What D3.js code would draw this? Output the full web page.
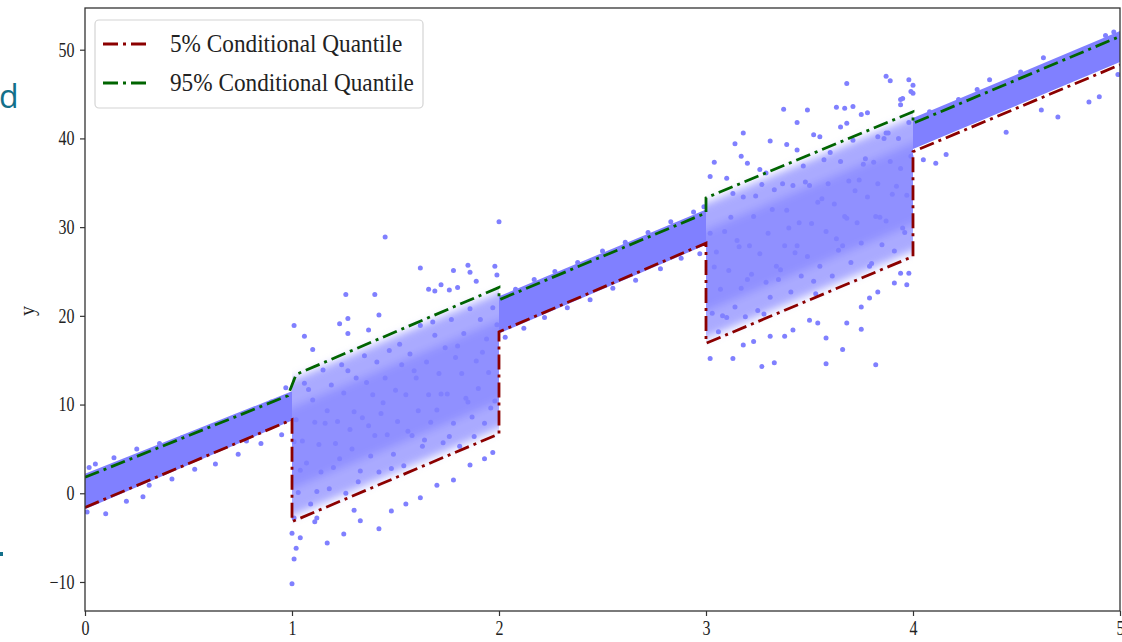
<!DOCTYPE html>
<html>
<head>
<meta charset="utf-8">
<script src="https://cdn.jsdelivr.net/npm/d3@7"></script>
<style>
body{margin:0;background:#fff}
svg{display:block}
</style>
</head>
<body>
<svg id="chart" width="1122" height="642"></svg>
<script>
// tick labels
const xTicks = [0, 1, 2, 3, 4, 5];
const yTicks = [-10, 0, 10, 20, 30, 40, 50];

// conditional quantile lines (x, y)
const q5X  = [0, 1, 1, 2, 2, 3, 3, 4, 4, 5];
const q5Y  = [-1.6, 8.3, -3.2, 6.7, 18.2, 28.2, 16.9, 26.7, 38.5, 48.3];
const q95X = [0, 0.98, 1.0, 1.02, 2, 2, 3, 3, 4, 4, 5];
const q95Y = [1.8, 11.0, 12.2, 13.4, 23.2, 21.8, 31.6, 33.3, 43.0, 41.7, 51.5];

// dense low-noise bands (segment start / end)
const bandX0 = [0, 2, 4],        bandX1 = [1, 3, 5];
const bandLo0 = [-1.8, 18.0, 38.8], bandLo1 = [8.2, 28.0, 48.6];
const bandHi0 = [2.2, 22.2, 42.3],  bandHi1 = [11.5, 32.0, 52.1];

// noisy clouds: outer core and inner (densest) core
const cloudX0 = [1, 3],         cloudX1 = [2, 4];
const cloudLo0 = [-2.6, 17.5],  cloudLo1 = [7.3, 27.3];
const cloudHi0 = [12.8, 32.7],  cloudHi1 = [22.6, 42.4];
const innerLo0 = [0.5, 20.5],   innerLo1 = [10.3, 30.3];
const innerHi0 = [9.7, 29.7],   innerHi1 = [19.5, 39.5];

// scattered samples
const cloudA = [[1.02,8.3],[1.03,0.1],[1.05,5.9],[1.06,12.4],[1.07,3.4],[1.09,-1.2],[1.10,10.5],[1.11,8.0],[1.13,5.5],[1.14,2.4],
[1.15,13.9],[1.17,9.3],[1.18,0.5],[1.19,12.2],[1.21,5.6],[1.22,8.1],[1.23,3.9],[1.25,11.3],[1.26,0.0],[1.27,13.8],
[1.29,5.0],[1.30,9.2],[1.31,13.0],[1.33,2.5],[1.34,8.5],[1.35,15.5],[1.37,7.6],[1.38,4.2],[1.39,11.1],[1.41,14.8],
[1.42,2.4],[1.43,9.0],[1.45,13.0],[1.46,6.6],[1.47,16.1],[1.49,4.4],[1.50,11.6],[1.51,8.1],[1.53,14.5],[1.54,3.1],
[1.55,11.1],[1.57,15.7],[1.58,6.5],[1.59,13.8],[1.61,9.3],[1.62,18.9],[1.63,5.3],[1.65,14.8],[1.66,11.1],[1.67,8.0],
[1.69,17.8],[1.70,9.4],[1.71,13.5],[1.73,5.7],[1.74,16.4],[1.75,11.2],[1.77,19.6],[1.78,7.9],[1.79,15.3],[1.81,5.3],
[1.82,13.5],[1.83,18.0],[1.85,10.3],[1.86,20.8],[1.87,8.6],[1.89,14.9],[1.90,11.8],[1.91,19.6],[1.93,7.9],[1.94,17.4],
[1.95,13.6],[1.97,20.9],[1.98,10.4],[1.04,2.6],[1.08,11.7],[1.12,0.2],[1.16,7.9],[1.20,2.9],[1.24,14.5],[1.28,7.2],
[1.32,1.3],[1.36,12.5],[1.40,6.5],[1.44,10.2],[1.48,2.8],[1.52,16.8],[1.56,7.0],[1.60,13.0],[1.64,6.0],[1.68,19.3],
[1.72,11.2],[1.76,6.4],[1.80,16.6],[1.84,10.7],[1.88,6.4],[1.92,15.9],[1.96,9.6],[1.99,19.0],[1.01,5.8],[1.01,-2.8]];

const outA = [[1.45,28.9],[2.0,30.6],[1.62,25.4],[1.78,25.1],[1.85,25.7],[1.86,24.9],[1.98,25.6],[1.99,24.6],[1.89,23.9],[1.66,23.0],
[1.69,22.8],[1.72,23.5],[1.76,22.9],[1.80,23.2],[1.26,22.4],[1.40,22.4],[1.27,19.7],[1.23,19.1],[1.42,20.1],[1.01,18.9],
[1.06,17.7],[1.10,16.2],[1.27,18.0],[1.37,18.4],[1.0,-10.2],[1.01,-7.4],[1.02,-6.2],[1.04,-5.0],[1.11,-3.2],[1.17,-5.6],
[1.25,-4.6],[1.33,-3.1],[1.42,-4.0],[1.48,-2.0],[1.55,-1.2],[1.62,-0.5],[1.70,0.9],[1.78,1.5],[1.86,3.2],[1.93,3.9],
[1.97,4.6],[1.12,-2.8],[1.30,-1.9],[1.0,-4.5]];

const cloudB = [[3.02,29.3],[3.03,20.3],[3.05,27.2],[3.06,18.2],[3.07,23.0],[3.09,29.5],[3.10,19.8],[3.11,25.1],[3.13,33.8],[3.14,21.0],
[3.15,28.5],[3.17,23.1],[3.18,33.4],[3.19,19.9],[3.21,27.9],[3.22,24.7],[3.23,31.2],[3.25,20.6],[3.26,27.0],[3.27,34.8],
[3.29,23.8],[3.30,29.3],[3.31,22.1],[3.33,34.2],[3.34,25.6],[3.35,24.1],[3.37,34.9],[3.38,27.9],[3.39,31.9],[3.41,22.7],
[3.42,34.7],[3.43,27.1],[3.45,30.5],[3.46,24.5],[3.47,36.9],[3.49,26.7],[3.50,34.7],[3.51,30.4],[3.53,22.5],[3.54,32.8],
[3.55,25.6],[3.57,37.6],[3.58,29.5],[3.59,34.9],[3.61,24.5],[3.62,32.6],[3.63,28.7],[3.65,37.4],[3.66,27.9],[3.67,31.2],
[3.69,35.2],[3.70,26.0],[3.71,39.8],[3.73,30.5],[3.74,35.3],[3.75,28.2],[3.77,37.7],[3.78,33.4],[3.79,25.6],[3.81,37.3],
[3.82,31.2],[3.83,34.9],[3.85,28.0],[3.86,40.0],[3.87,30.7],[3.89,37.4],[3.90,33.7],[3.91,27.3],[3.93,40.0],[3.94,36.6],
[3.95,29.9],[3.97,33.6],[3.98,41.8],[3.04,25.5],[3.08,20.0],[3.12,31.1],[3.16,27.8],[3.20,24.1],[3.24,33.5],[3.28,20.2],
[3.32,32.0],[3.36,25.2],[3.40,29.9],[3.44,27.9],[3.48,35.1],[3.52,23.9],[3.56,33.2],[3.60,38.4],[3.64,27.4],[3.68,31.0],
[3.72,34.1],[3.76,37.1],[3.80,25.9],[3.84,31.1],[3.88,40.6],[3.92,34.6],[3.96,29.4],[3.99,38.0]];

const outB = [[3.375,43.3],[3.49,43.2],[3.44,41.8],[3.63,43.5],[3.67,43.4],[3.71,43.6],[3.75,42.7],[3.78,42.9],[3.95,44.5],[3.94,43.8],
[4.0,45.1],[3.18,40.6],[3.14,39.4],[3.04,37.3],[3.02,35.7],[3.17,38.0],[3.20,37.2],[3.31,39.7],[3.39,39.3],[3.44,38.7],
[3.52,40.4],[3.55,40.2],[3.10,35.5],[3.26,36.5],[3.29,36.1],[3.65,41.3],[3.68,41.7],[3.83,40.2],[3.87,40.6],[3.87,47.0],
[3.89,46.5],[3.68,46.2],[3.98,46.6],[4.0,46.0],[3.99,45.3],[3.94,44.4],[3.02,15.2],[3.13,15.2],[3.27,14.3],[3.33,14.7],
[3.58,14.6],[3.66,16.2],[3.82,14.5],[3.18,16.7],[3.23,17.1],[3.31,17.7],[3.38,17.7],[3.42,18.4],[3.58,17.5],[3.75,18.5],
[3.75,21.0],[3.79,22.0],[3.83,22.7],[3.91,23.7],[3.97,23.5],[3.94,24.8],[3.98,24.8],[3.68,19.2],[3.50,19.5],[3.54,19.2]];

const fringe = [[0.02,2.9],[0.05,3.3],[0.10,-2.3],[0.14,4.0],[0.20,-0.9],[0.25,5.0],[0.31,0.9],[0.36,5.6],[0.42,1.6],[0.47,6.3],
[0.53,2.7],[0.58,7.1],[0.63,3.3],[0.69,8.1],[0.74,4.4],[0.80,9.0],[0.85,5.6],[0.90,10.3],[0.95,6.6],[0.97,11.9],
[0.01,-2.1],[0.28,-0.4],[0.78,5.9],
[2.03,17.6],[2.08,23.0],[2.12,18.6],[2.17,24.1],[2.22,19.8],[2.27,25.0],[2.33,20.9],[2.38,26.0],[2.44,21.8],[2.50,27.3],
[2.55,23.1],[2.61,28.3],[2.66,24.0],[2.72,29.4],[2.78,25.3],[2.83,30.6],[2.88,26.5],[2.94,31.7],[2.97,27.0],[2.99,32.3],
[4.37,46.6],[4.63,49.1],[4.90,44.7],[4.99,47.2],[4.16,38.2],[4.11,37.2],[4.62,43.2],[4.31,45.5],[4.05,37.6],[4.22,44.4],
[4.45,40.7],[4.52,47.5],[4.70,42.4],[4.77,49.0],[4.85,44.1],[4.93,51.6],[4.97,52.0],[4.08,43.0]];

const legendLabels = ["5% Conditional Quantile", "95% Conditional Quantile"];
const legendColors = ["#8b0000", "#006400"];

const svg = d3.select("#chart");
const margin = {left: 85, top: 8, right: 2, bottom: 31};
const width = 1122, height = 642;
const serif = "'Liberation Serif','Times New Roman',serif";
const dotColor = "#8080ff";
const dash = "15,5,3,5";

const x = d3.scaleLinear().domain([0, 5]).range([margin.left, width - margin.right]);
const y = d3.scaleLinear().domain([-13.27, 54.7]).range([height - margin.bottom, margin.top]);

const defs = svg.append("defs");
defs.append("clipPath").attr("id", "plot")
  .append("rect")
  .attr("x", x(0)).attr("y", y(54.7))
  .attr("width", x(5) - x(0)).attr("height", y(-13.27) - y(54.7));
defs.append("filter").attr("id", "soft")
  .attr("x", "-10%").attr("y", "-10%").attr("width", "120%").attr("height", "120%")
  .append("feGaussianBlur").attr("stdDeviation", 4);
cloudX0.forEach((x0, i) => {
  defs.append("clipPath").attr("id", "seg" + i)
    .append("rect")
    .attr("x", x(x0)).attr("y", 0)
    .attr("width", x(cloudX1[i]) - x(x0)).attr("height", height);
});

const plot = svg.append("g").attr("clip-path", "url(#plot)");

const quad = (x0, x1, lo0, lo1, hi0, hi1) =>
  "M" + [[x0, lo0], [x1, lo1], [x1, hi1], [x0, hi0]].map(p => x(p[0]) + "," + y(p[1])).join("L") + "Z";

// dense bands
bandX0.forEach((x0, i) => {
  plot.append("path")
    .attr("d", quad(x0, bandX1[i], bandLo0[i], bandLo1[i], bandHi0[i], bandHi1[i]))
    .attr("fill", dotColor);
});

// cloud cores: soft top/bottom, hard left/right edges
cloudX0.forEach((x0, i) => {
  const g = plot.append("g").attr("clip-path", `url(#seg${i})`)
    .append("g").attr("filter", "url(#soft)");
  const pad = 0.05;
  g.append("path")
    .attr("d", quad(x0 - pad, cloudX1[i] + pad, cloudLo0[i] - 0.5, cloudLo1[i] + 0.5, cloudHi0[i] - 0.5, cloudHi1[i] + 0.5))
    .attr("fill", "#aaaaff");
  g.append("path")
    .attr("d", quad(x0 - pad, cloudX1[i] + pad, innerLo0[i] - 0.5, innerLo1[i] + 0.5, innerHi0[i] - 0.5, innerHi1[i] + 0.5))
    .attr("fill", "#9090ff");
});

const allDots = cloudA.concat(outA, cloudB, outB, fringe);
plot.selectAll("circle.dot")
  .data(allDots)
  .enter()
  .append("circle")
    .attr("class", "dot")
    .attr("cx", d => x(d[0]))
    .attr("cy", d => y(d[1]))
    .attr("r", 2.5)
    .attr("fill", dotColor);

// quantile lines
const line = d3.line().x(d => x(d[0])).y(d => y(d[1]));
plot.append("path")
  .attr("d", line(q5X.map((v, i) => [v, q5Y[i]])))
  .attr("fill", "none").attr("stroke", legendColors[0])
  .attr("stroke-width", 2.8).attr("stroke-dasharray", dash);
plot.append("path")
  .attr("d", line(q95X.map((v, i) => [v, q95Y[i]])))
  .attr("fill", "none").attr("stroke", legendColors[1])
  .attr("stroke-width", 2.8).attr("stroke-dasharray", dash);

// frame
svg.append("rect")
  .attr("x", x(0)).attr("y", y(54.7))
  .attr("width", x(5) - x(0)).attr("height", y(-13.27) - y(54.7))
  .attr("fill", "none").attr("stroke", "#333").attr("stroke-width", 1.3);

// axes
const fmt = d => d < 0 ? "\u2212" + Math.abs(d) : String(d);
const gy = svg.append("g").attr("transform", `translate(${x(0)},0)`)
  .call(d3.axisLeft(y).tickValues(yTicks).tickFormat(fmt).tickSize(5).tickPadding(8));
const gx = svg.append("g").attr("transform", `translate(0,${y(-13.27)})`)
  .call(d3.axisBottom(x).tickValues(xTicks).tickFormat(fmt).tickSize(5).tickPadding(5));
[gx, gy].forEach(g => {
  g.select(".domain").remove();
  g.selectAll("line").attr("stroke", "#333").attr("stroke-width", 1.2);
  g.selectAll("text")
    .attr("font-family", serif).attr("font-size", 20).attr("fill", "#222")
    .attr("transform", "scale(0.8,1)");
});

svg.append("text")
  .attr("transform", "translate(34,311) rotate(-90)")
  .attr("text-anchor", "middle")
  .attr("font-family", serif).attr("font-size", 20).attr("fill", "#222")
  .text("y");

// legend
const lg = svg.append("g");
lg.append("rect")
  .attr("x", 95).attr("y", 20).attr("width", 328).attr("height", 88)
  .attr("rx", 4).attr("fill", "#fff").attr("fill-opacity", 0.85)
  .attr("stroke", "#d4d4d4").attr("stroke-width", 1.2);
legendLabels.forEach((lab, i) => {
  const cy = 44 + i * 39;
  lg.append("line")
    .attr("x1", 103).attr("x2", 150).attr("y1", cy).attr("y2", cy)
    .attr("stroke", legendColors[i]).attr("stroke-width", 2.8)
    .attr("stroke-dasharray", dash);
  lg.append("text")
    .attr("transform", `translate(170,${cy + 8}) scale(0.93,1)`)
    .attr("font-family", serif).attr("font-size", 25).attr("fill", "#222")
    .text(lab);
});

// slide fragments at the left edge
svg.append("text").attr("x", -1).attr("y", 108)
  .attr("font-family", "'Open Sans',sans-serif").attr("font-size", 32).attr("fill", "#13708a")
  .text("d");
svg.append("rect").attr("x", 0).attr("y", 552).attr("width", 3).attr("height", 4).attr("fill", "#13708a");
</script>
</body>
</html>
